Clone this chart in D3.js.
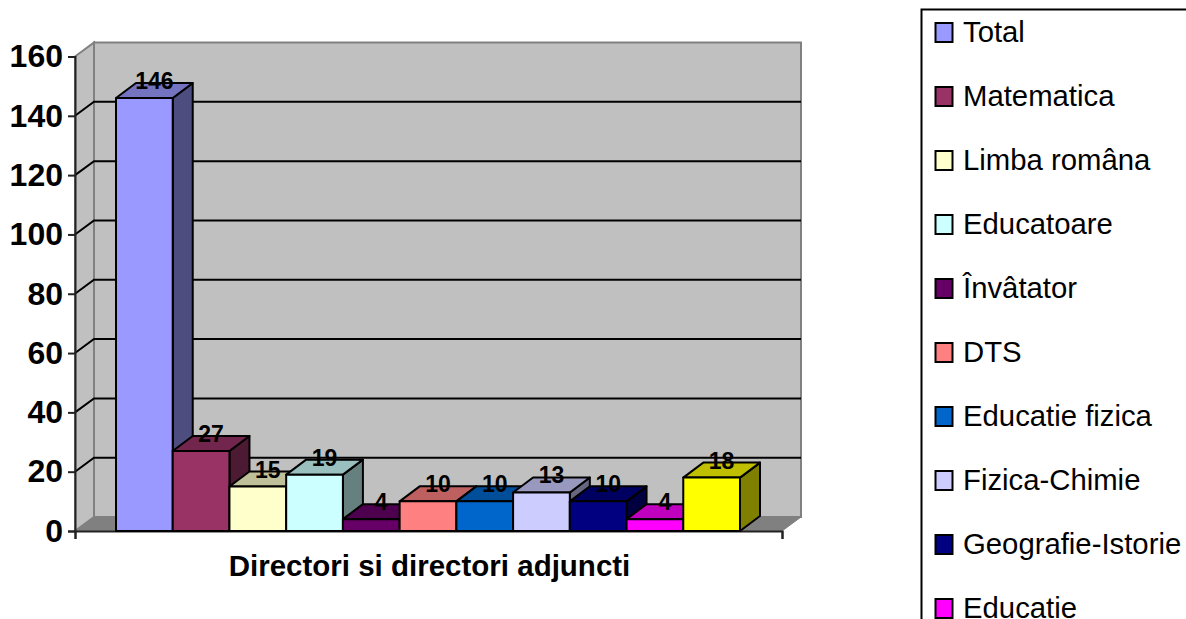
<!DOCTYPE html>
<html><head><meta charset="utf-8">
<script src="https://cdn.jsdelivr.net/npm/d3@7"></script>
<style>html,body{margin:0;padding:0;background:#fff;overflow:hidden}svg{display:block;font-family:"Liberation Sans",Arial,sans-serif}</style>
</head><body><svg id="c" width="1186" height="619"></svg>
<script>
const seriesNames = ["Total","Matematica","Limba româna","Educatoare","Învâtator","DTS","Educatie fizica","Fizica-Chimie","Geografie-Istorie","Educatie",""];
const seriesValues = [146,27,15,19,4,10,10,13,10,4,18];
const seriesColors = ["#9999FF","#993366","#FFFFCC","#CCFFFF","#660066","#FF8080","#0066CC","#CCCCFF","#000080","#FF00FF","#FFFF00"];
const yTicks = [0,20,40,60,80,100,120,140,160];
const groupLabel = "Directori si directori adjuncti";

const svg = d3.select("#c");
const X0=75, X1=782, Y0=531, Y160=56.5, WX=19, WY=-14, BX=20, BY=-15;
const y = d3.scaleLinear().domain([0,160]).range([Y0,Y160]);
const x = d3.scaleBand().domain(d3.range(seriesValues.length)).range([116,740]);
const xAxisScale = d3.scaleLinear().domain([0,1]).range([X0,X1]);
const poly = pts => pts.map(p=>p.join(",")).join(" ");

// walls
svg.append("polygon").attr("points",poly([[X0+WX,y(160)+WY],[X1+WX,y(160)+WY],[X1+WX,Y0+WY],[X0+WX,Y0+WY]]))
  .attr("fill","#c0c0c0").attr("stroke","#808080").attr("stroke-width",2);
svg.append("polygon").attr("points",poly([[X0,y(160)],[X0+WX,y(160)+WY],[X0+WX,Y0+WY],[X0,Y0]]))
  .attr("fill","#c0c0c0").attr("stroke","#808080").attr("stroke-width",2);
svg.append("polygon").attr("points",poly([[X0,Y0],[X0+WX,Y0+WY],[X1+WX,Y0+WY],[X1,Y0]]))
  .attr("fill","#808080").attr("stroke","#808080").attr("stroke-width",1);

// gridlines
const grid = svg.append("g").attr("fill","none").attr("stroke","#000").attr("stroke-width",2);
grid.selectAll("polyline").data(yTicks.filter(t=>t>0&&t<160)).join("polyline")
  .attr("points",t=>poly([[X0,y(t)],[X0+WX,y(t)+WY],[X1+WX,y(t)+WY]]));

// axes
const gy = svg.append("g").attr("transform",`translate(${X0},0)`)
  .call(d3.axisLeft(y).tickValues(yTicks).tickSize(7).tickPadding(5));
gy.selectAll("text").attr("font-size",32).attr("font-weight","bold").attr("font-family","Liberation Sans").attr("fill","#000");
gy.selectAll("line,path").attr("stroke","#222").attr("stroke-width",2);
const gx = svg.append("g").attr("transform",`translate(0,${Y0})`)
  .call(d3.axisBottom(xAxisScale).tickValues([0,1]).tickSize(8).tickFormat(""));
gx.selectAll("line,path").attr("stroke","#222").attr("stroke-width",2);

// bars, left to right so each one overlaps the side of the previous
const shade=(c,k)=>{const r=d3.rgb(c);return d3.rgb(r.r*k,r.g*k,r.b*k).formatHex();};
const bars = svg.append("g").attr("stroke","#000").attr("stroke-width",2).attr("stroke-linejoin","round");
seriesValues.forEach((v,i)=>{
  const l=x(i), r=l+x.bandwidth(), t=y(v), b=Y0, c=seriesColors[i];
  const g=bars.append("g");
  g.append("polygon").attr("points",poly([[r,t],[r+BX,t+BY],[r+BX,b+BY],[r,b]])).attr("fill",shade(c,.5));
  g.append("polygon").attr("points",poly([[l,t],[l+BX,t+BY],[r+BX,t+BY],[r,t]])).attr("fill",shade(c,.75));
  g.append("rect").attr("x",l).attr("y",t).attr("width",r-l).attr("height",b-t).attr("fill",c);
});

// data labels
svg.append("g").selectAll("text").data(seriesValues).join("text")
  .attr("x",(d,i)=>x(i)+x.bandwidth()/2+10).attr("y",d=>y(d)-9)
  .attr("text-anchor","middle").attr("font-size",23).attr("font-weight","bold").attr("fill","#000")
  .text(d=>d);

// group label
svg.append("text").attr("x",429.5).attr("y",576).attr("text-anchor","middle")
  .attr("font-size",29.5).attr("font-weight","bold").attr("fill","#000").text(groupLabel);

// legend
svg.append("rect").attr("x",921.5).attr("y",9.5).attr("width",300).attr("height",700)
  .attr("fill","#fff").attr("stroke","#000").attr("stroke-width",2);
const ly = d3.scalePoint().domain(d3.range(seriesNames.length)).range([32,672]);
const lg = svg.append("g").selectAll("g").data(seriesNames).join("g")
  .attr("transform",(d,i)=>`translate(0,${ly(i)})`);
lg.append("rect").attr("x",935.5).attr("y",-9).attr("width",17).attr("height",19)
  .attr("fill",(d,i)=>seriesColors[i]).attr("stroke","#000").attr("stroke-width",2);
lg.append("text").attr("x",963).attr("y",10).attr("font-size",29.3).attr("fill","#000").text(d=>d);
</script></body></html>
